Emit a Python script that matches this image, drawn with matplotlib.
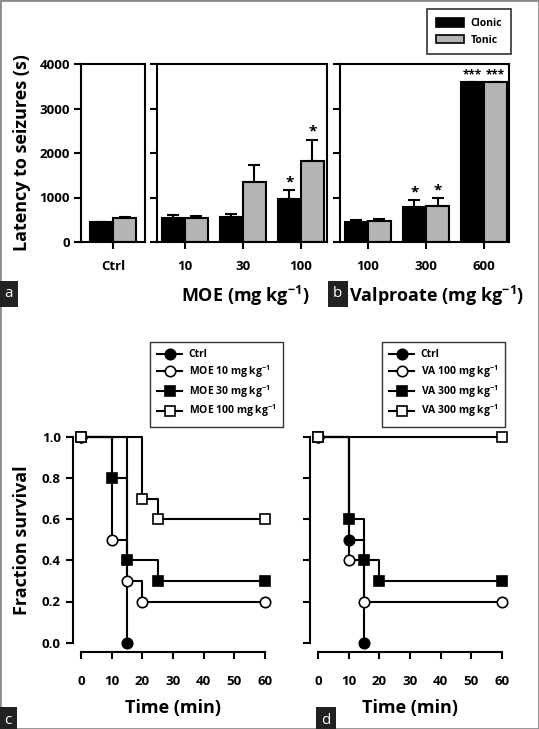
import matplotlib
matplotlib.use("Agg")
import matplotlib.pyplot as plt
from matplotlib.patches import Rectangle

plt.rcParams["font.family"] = ["Open Sans", "DejaVu Sans"]
plt.rcParams["font.weight"] = "bold"
plt.rcParams["mathtext.fontset"] = "custom"
plt.rcParams["mathtext.rm"] = "Open Sans:bold"
plt.rcParams["mathtext.default"] = "rm"
plt.rcParams["axes.linewidth"] = 1.5

# ── Data: bar panels (latency to seizures, s) ────────────────────────────────
ctrl_labels = ["Ctrl"]
ctrl_clonic = [440]
ctrl_clonic_err = [20]
ctrl_tonic = [550]
ctrl_tonic_err = [15]

moe_labels = ["10", "30", "100"]
moe_clonic = [530, 570, 970]
moe_clonic_err = [70, 50, 200]
moe_tonic = [540, 1340, 1810]
moe_tonic_err = [50, 400, 490]
moe_stars_clonic = ["", "", "*"]
moe_stars_tonic = ["", "", "*"]

va_labels = ["100", "300", "600"]
va_clonic = [460, 790, 3600]
va_clonic_err = [40, 150, 0]
va_tonic = [470, 820, 3600]
va_tonic_err = [40, 160, 0]
va_stars_clonic = ["", "*", "***"]
va_stars_tonic = ["", "*", "***"]

# ── Data: survival panels ────────────────────────────────────────────────────
c_ctrl_t, c_ctrl_s = [0, 15], [1.0, 0.0]
c_moe10_t, c_moe10_s = [0, 10, 15, 20, 60], [1.0, 0.5, 0.3, 0.2, 0.2]
c_moe30_t, c_moe30_s = [0, 10, 15, 25, 60], [1.0, 0.8, 0.4, 0.3, 0.3]
c_moe100_t, c_moe100_s = [0, 20, 25, 60], [1.0, 0.7, 0.6, 0.6]

d_ctrl_t, d_ctrl_s = [0, 10, 15], [1.0, 0.5, 0.0]
d_va100_t, d_va100_s = [0, 10, 15, 60], [1.0, 0.4, 0.2, 0.2]
d_va300_t, d_va300_s = [0, 10, 15, 20, 60], [1.0, 0.6, 0.4, 0.3, 0.3]
d_va300b_t, d_va300b_s = [0, 60], [1.0, 1.0]

W, H = 539, 729
fig = plt.figure(figsize=(W / 100, H / 100), dpi=100)


def fig_rect(x0, y0, x1, y1):
    return [x0 / W, 1 - y1 / H, (x1 - x0) / W, (y1 - y0) / H]


CLONIC = "black"
TONIC = "#b4b4b4"
BW = 0.4


def add_stars(ax, xs, vals, errs, stars):
    for xi, v, e, s in zip(xs, vals, errs, stars):
        if not s:
            continue
        size = 11 if len(s) == 1 else 8.5
        ax.text(xi, v + e + 20, s, ha="center", va="bottom",
                fontsize=size, fontweight="bold")


def bar_panel(rect, labels, clonic, clonic_err, tonic, tonic_err, xlim,
              stars_c=None, stars_t=None, show_y=False):
    ax = fig.add_axes(rect)
    x = list(range(len(labels)))
    xc = [i - BW / 2 for i in x]
    xt = [i + BW / 2 for i in x]
    ax.bar(xc, clonic, BW, color=CLONIC, edgecolor="black", linewidth=1.5, zorder=2)
    ax.bar(xt, tonic, BW, color=TONIC, edgecolor="black", linewidth=1.5, zorder=2)
    ax.errorbar(xc, clonic, yerr=[[0] * len(x), clonic_err], fmt="none",
                ecolor="black", elinewidth=1.5, capsize=4, capthick=1.5, zorder=1)
    ax.errorbar(xt, tonic, yerr=[[0] * len(x), tonic_err], fmt="none",
                ecolor="black", elinewidth=1.5, capsize=4, capthick=1.5, zorder=1)
    if stars_c:
        add_stars(ax, xc, clonic, clonic_err, stars_c)
    if stars_t:
        add_stars(ax, xt, tonic, tonic_err, stars_t)
    ax.set_xlim(*xlim)
    ax.set_ylim(0, 4000)
    ax.set_xticks(x)
    ax.set_xticklabels(labels, fontsize=9.5, fontweight="bold")
    ax.set_yticks([0, 1000, 2000, 3000, 4000])
    ax.tick_params(axis="both", direction="out", length=5, width=1.5, pad=8)
    if show_y:
        ax.set_yticklabels(["0", "1000", "2000", "3000", "4000"],
                           fontsize=9.5, fontweight="bold")
        ax.tick_params(axis="y", pad=3)
    else:
        ax.set_yticklabels([])
    return ax


ax_a = bar_panel(fig_rect(81, 64, 145, 242), ctrl_labels, ctrl_clonic,
                 ctrl_clonic_err, ctrl_tonic, ctrl_tonic_err, (-0.55, 0.55),
                 show_y=True)
ax_a.set_ylabel("Latency to seizures (s)", fontsize=13, fontweight="bold",
                labelpad=6)

bar_panel(fig_rect(157, 64, 327, 242), moe_labels, moe_clonic, moe_clonic_err,
          moe_tonic, moe_tonic_err, (-0.48, 2.45), moe_stars_clonic,
          moe_stars_tonic)
ax_b = bar_panel(fig_rect(340, 64, 509, 242), va_labels, va_clonic,
                 va_clonic_err, va_tonic, va_tonic_err, (-0.48, 2.43),
                 va_stars_clonic, va_stars_tonic)

fig.text(245 / W, 1 - 296 / H, r"MOE (mg kg$^{-1}$)", ha="center",
         va="center", fontsize=13, fontweight="bold")
fig.text(349 / W, 1 - 296 / H, r"Valproate (mg kg$^{-1}$)", ha="left",
         va="center", fontsize=13, fontweight="bold")

# top legend
h_c = Rectangle((0, 0), 1, 1, facecolor=CLONIC, edgecolor="black", linewidth=1.2)
h_t = Rectangle((0, 0), 1, 1, facecolor=TONIC, edgecolor="black", linewidth=1.2)
leg = fig.legend([h_c, h_t], ["Clonic", "Tonic"], loc="upper right",
                 bbox_to_anchor=(511 / W, 1 - 9 / H), frameon=True,
                 fancybox=False, edgecolor="black", fontsize=7.5,
                 handlelength=2.7, handleheight=0.9, borderpad=0.85,
                 labelspacing=0.55, borderaxespad=0, handletextpad=0.6)
leg.get_frame().set_linewidth(1.2)


# ── Survival panels ──────────────────────────────────────────────────────────
def surv_panel(rect, series, show_y=False):
    ax = fig.add_axes(rect)
    for t, s, style in series:
        ax.plot(t, s, drawstyle="steps-post", color="black", linewidth=1.5,
                marker=style[0], markerfacecolor=style[1],
                markeredgecolor="black", markersize=7.5, markeredgewidth=1.2,
                clip_on=False)
    ax.set_xlim(0, 60)
    ax.set_ylim(0, 1)
    for sp in ["top", "right"]:
        ax.spines[sp].set_visible(False)
    ax.spines["left"].set_position(("outward", 6))
    ax.spines["bottom"].set_position(("outward", 7))
    ax.set_xticks([0, 10, 20, 30, 40, 50, 60])
    ax.set_yticks([0.0, 0.2, 0.4, 0.6, 0.8, 1.0])
    ax.tick_params(axis="both", direction="out", length=5, width=1.5)
    ax.tick_params(axis="x", pad=11)
    ax.set_xticklabels(["0", "10", "20", "30", "40", "50", "60"],
                       fontsize=9.5, fontweight="bold")
    if show_y:
        ax.set_yticklabels(["0.0", "0.2", "0.4", "0.6", "0.8", "1.0"],
                           fontsize=9.5, fontweight="bold")
    else:
        ax.set_yticklabels([])
    ax.set_xlabel("Time (min)", fontsize=13, fontweight="bold", labelpad=8)
    return ax


c_series = [
    (c_ctrl_t, c_ctrl_s, ("o", "black")),
    (c_moe10_t, c_moe10_s, ("o", "white")),
    (c_moe30_t, c_moe30_s, ("s", "black")),
    (c_moe100_t, c_moe100_s, ("s", "white")),
]
d_series = [
    (d_ctrl_t, d_ctrl_s, ("o", "black")),
    (d_va100_t, d_va100_s, ("o", "white")),
    (d_va300_t, d_va300_s, ("s", "black")),
    (d_va300b_t, d_va300b_s, ("s", "white")),
]
ax_c = surv_panel(fig_rect(81, 436.7, 265, 642.7), c_series, show_y=True)
ax_c.set_ylabel("Fraction survival", fontsize=13, fontweight="bold", labelpad=8)
ax_d = surv_panel(fig_rect(318, 436.7, 502, 642.7), d_series)

c_labels = ["Ctrl", r"MOE 10 mg kg$^{-1}$", r"MOE 30 mg kg$^{-1}$",
            r"MOE 100 mg kg$^{-1}$"]
d_labels = ["Ctrl", r"VA 100 mg kg$^{-1}$", r"VA 300 mg kg$^{-1}$",
            r"VA 300 mg kg$^{-1}$"]
for ax, labels, anchor in [(ax_c, c_labels, 150), (ax_d, d_labels, 382)]:
    lg = ax.legend(ax.get_lines(), labels, loc="upper left",
                   bbox_to_anchor=(anchor / W, 1 - 342 / H),
                   bbox_transform=fig.transFigure, frameon=True,
                   fancybox=False, edgecolor="black", fontsize=7.5,
                   handlelength=2.4, borderpad=0.7, labelspacing=0.28,
                   handletextpad=0.6, borderaxespad=0)
    lg.get_frame().set_linewidth(1.0)

# panel letters
for letter, x, y in [("a", 4, 294), ("b", 333, 294), ("c", 4, 720), ("d", 321, 720)]:
    fig.text(x / W, 1 - y / H, letter, ha="left", va="center", fontsize=11,
             color="white", fontweight="normal",
             bbox=dict(boxstyle="square,pad=0.35", facecolor="#222222",
                       edgecolor="none"))

# outer border
fig.patches.append(Rectangle((0, 0), 1, 1, transform=fig.transFigure,
                             fill=False, edgecolor="#8c8c8c", linewidth=2))

fig.savefig("out.png", dpi=100)
